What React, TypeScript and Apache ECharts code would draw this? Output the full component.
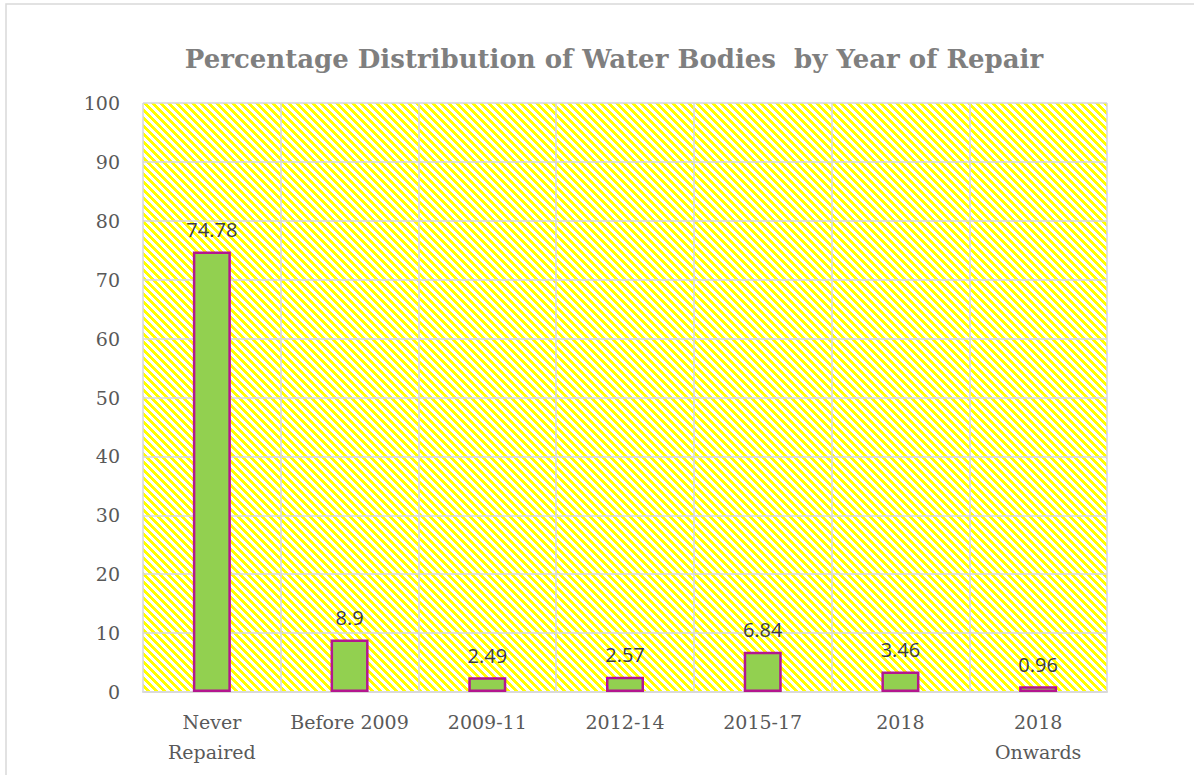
import React, { useEffect, useRef } from "react";
import * as echarts from "echarts";

const categories = ["Never\nRepaired", "Before 2009", "2009-11", "2012-14", "2015-17", "2018", "2018\nOnwards"];
const values = [74.78, 8.9, 2.49, 2.57, 6.84, 3.46, 0.96];
const titleText = "Percentage Distribution of Water Bodies  by Year of Repair";

function makeStripe(): string {
  const size = 8;
  const c = document.createElement("canvas");
  c.width = size;
  c.height = size;
  const ctx = c.getContext("2d")!;
  const img = ctx.createImageData(size, size);
  for (let y = 0; y < size; y++) {
    for (let x = 0; x < size; x++) {
      const yellow = (((x - y) % size) + size) % size < 4;
      const i = (y * size + x) * 4;
      img.data[i] = 255;
      img.data[i + 1] = 255;
      img.data[i + 2] = yellow ? 0 : 255;
      img.data[i + 3] = 255;
    }
  }
  ctx.putImageData(img, 0, 0);
  return c.toDataURL();
}

export default function App() {
  const ref = useRef<HTMLDivElement>(null);
  useEffect(() => {
    if (!ref.current) return;
    const chart = echarts.init(ref.current, null, { renderer: "svg" });
    const pattern: any = { image: makeStripe(), repeat: "repeat", imageWidth: 8, imageHeight: 8 };
    chart.setOption({
      animation: false,
      backgroundColor: "#fff",
      title: {
        text: titleText,
        left: 609,
        textAlign: "center",
        top: 41,
        textStyle: { fontFamily: "'DejaVu Serif', serif", fontSize: 26, fontWeight: "bold", color: "#7f7f7f" },
      },
      graphic: [
        {
          type: "rect",
          shape: { x: 6, y: 4, width: 1200, height: 800 },
          style: { fill: "none", stroke: "#d9d9d9", lineWidth: 1.5 },
          silent: true,
          z: -10,
        },
      ],
      grid: {
        left: 143,
        top: 103,
        width: 964,
        height: 589,
        show: true,
        backgroundColor: pattern,
        borderWidth: 0,
      },
      xAxis: {
        type: "category",
        data: categories,
        axisLine: { show: true, lineStyle: { color: "#d9d9d9", width: 2 } },
        axisTick: { show: false },
        splitLine: { show: true, lineStyle: { color: "#d9d9d9", width: 1.5 } },
        axisLabel: {
          interval: 0,
          margin: 15,
          fontFamily: "'DejaVu Serif', serif",
          fontSize: 19,
          lineHeight: 30,
          color: "#595959",
        },
      },
      yAxis: {
        type: "value",
        min: 0,
        max: 100,
        interval: 10,
        axisLine: { show: false },
        axisTick: { show: false },
        splitLine: { show: true, lineStyle: { color: "#d9d9d9", width: 1.5 } },
        axisLabel: {
          margin: 23,
          fontFamily: "'DejaVu Serif', serif",
          fontSize: 19,
          color: "#595959",
        },
      },
      series: [
        {
          type: "bar",
          data: values,
          barWidth: 38,
          itemStyle: { color: "#92d050", borderColor: "#b4168f", borderWidth: 2.5 },
          label: {
            show: true,
            position: "top",
            distance: 12,
            fontFamily: "'Open Sans', sans-serif",
            fontSize: 20,
            color: "#404040",
          },
        },
      ],
    });
    return () => chart.dispose();
  }, []);
  return <div ref={ref} style={{ width: 1194, height: 775, position: "absolute", left: 0, top: 0 }} />;
}
